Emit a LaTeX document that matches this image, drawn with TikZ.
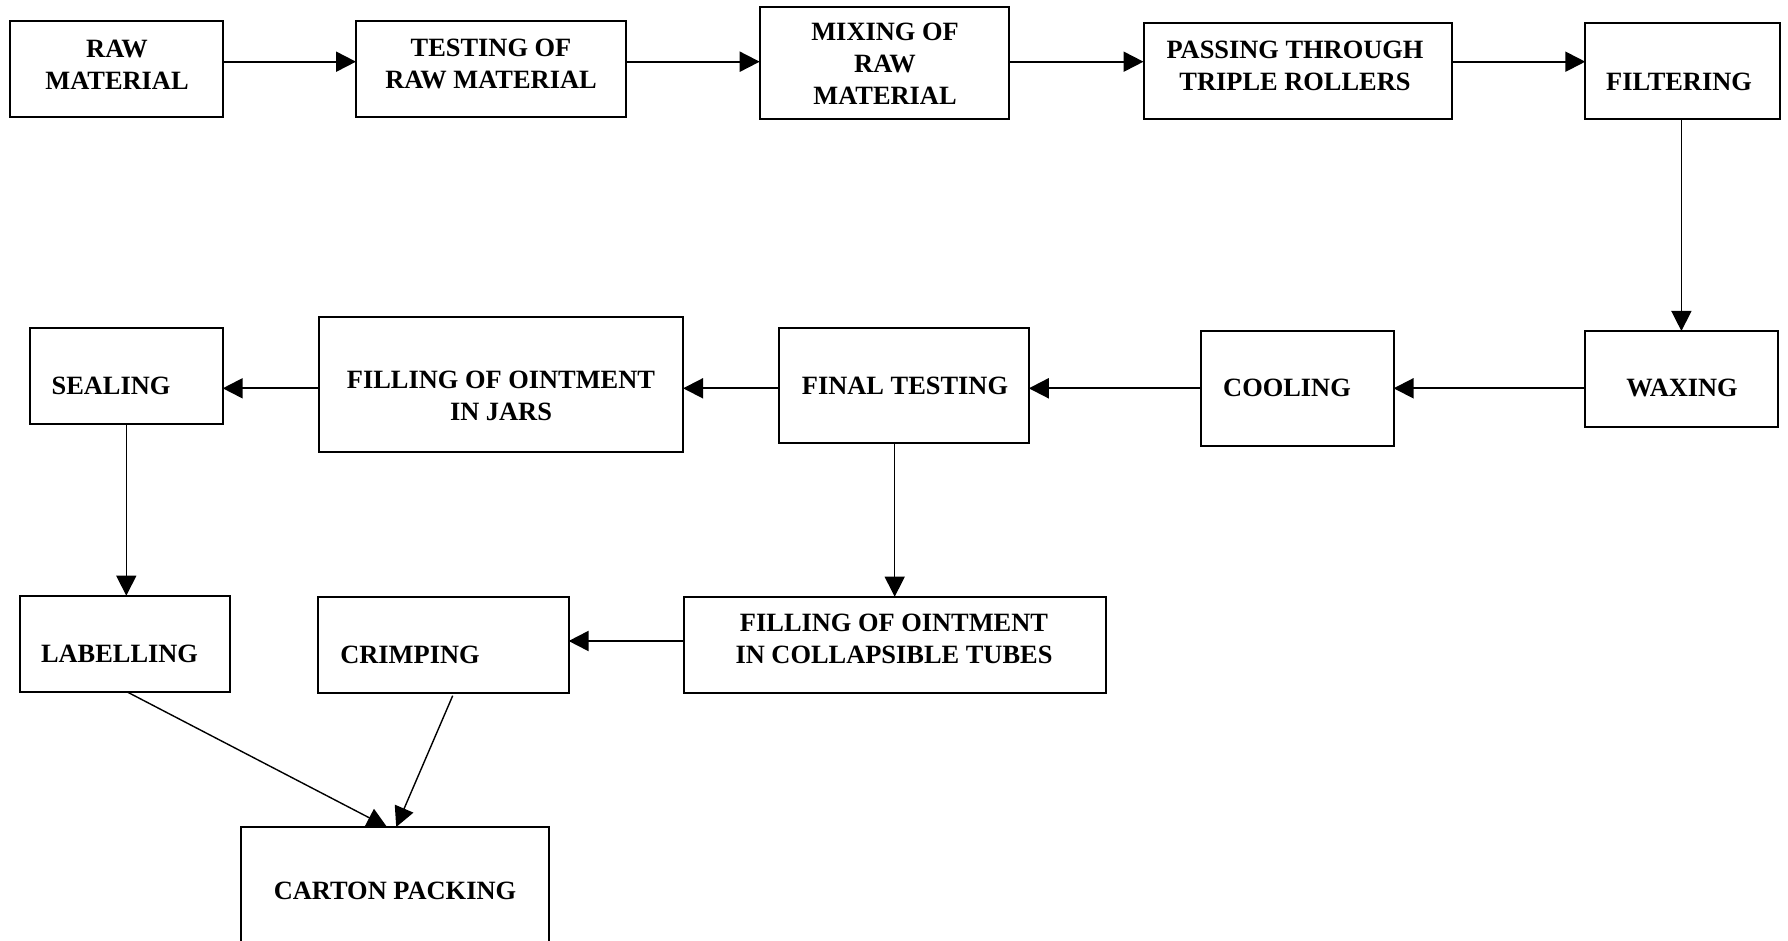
\documentclass[tikz,border=0pt]{standalone}
\usepackage{fontspec}
\setmainfont{Liberation Serif}
\usetikzlibrary{arrows.meta}

% box from corner (x1,y1) to (x2,y2), in pixel-like units
\newcommand\stagebox[5]{%
  \node[box, minimum width={(#4-#2)*0.5pt}, minimum height={(#5-#3)*0.5pt}]
    (#1) at ({(#2+#4)/2},{(#3+#5)/2}) {};}

\begin{document}
\begin{tikzpicture}[x=0.5pt,y=-0.5pt,
  box/.style={draw, line width=1pt, rectangle, inner sep=0pt, outer sep=0pt},
  lbl/.style={font=\bfseries\fontsize{13.2}{16}\selectfont, align=center, inner sep=0pt},
  flow/.style={line width=1pt, -{Triangle[length=10pt,width=10pt]}},
  thinflow/.style={line width=0.7pt, -{Triangle[length=10pt,width=10pt]}}]

\useasboundingbox (0,0) rectangle (1788,941);
\clip (0,0) rectangle (1788,941);

% row 1
\stagebox{raw}{10.3}{20.7}{222.7}{116.7}
\stagebox{test}{356}{20.7}{625.7}{116.7}
\stagebox{mix}{759.7}{6.7}{1009}{119.3}
\stagebox{pass}{1143.5}{23.3}{1451.5}{119}
\stagebox{filt}{1585.3}{23.3}{1780.4}{119}
\node[lbl] (t-raw)  at (117,64.4)  {RAW\\MATERIAL};
\node[lbl] (t-test) at (491,64.4)  {TESTING OF\\RAW MATERIAL};
\node[lbl] (t-mix)  at (885,63.3)  {MIXING OF\\RAW\\MATERIAL};
\node[lbl] (t-pass) at (1295,66)   {PASSING THROUGH\\TRIPLE ROLLERS};
\node[lbl] (t-filt) at (1679,82)   {FILTERING};

% row 2
\stagebox{seal}{29.9}{328.3}{222.7}{424}
\stagebox{jars}{318.6}{317.3}{683.1}{452}
\stagebox{final}{779}{328.3}{1028.8}{443.3}
\stagebox{cool}{1201.4}{331}{1393.6}{446}
\stagebox{wax}{1585.3}{331}{1777.5}{426.7}
\node[lbl] (t-seal)  at (111,385.8)   {SEALING};
\node[lbl] (t-jars)  at (501,396)     {FILLING OF OINTMENT\\IN JARS};
\node[lbl] (t-final) at (905,385.8)   {FINAL TESTING};
\node[lbl] (t-cool)  at (1287,388)    {COOLING};
\node[lbl] (t-wax)   at (1682,388)    {WAXING};

% row 3
\stagebox{label}{19.8}{595.7}{230.4}{691.7}
\stagebox{crimp}{318.4}{596.7}{568.6}{693.3}
\stagebox{tubes}{683.8}{596.7}{1105.6}{693.3}
\stagebox{carton}{241}{827}{549}{1000}
\node[lbl] (t-label)  at (119.5,653.8) {LABELLING};
\node[lbl] (t-crimp)  at (410,654.8)   {CRIMPING};
\node[lbl] (t-tubes)  at (894,639.3)   {FILLING OF OINTMENT\\IN COLLAPSIBLE TUBES};
\node[lbl] (t-carton) at (395,890.5)   {CARTON PACKING};

% arrow heights of the rows
\coordinate (yA) at (0,61.7);
\coordinate (yB) at (0,388.3);
\coordinate (yC) at (0,641);

% connectors
\draw[flow] (raw.east |- yA)  -- (test.west |- yA);
\draw[flow] (test.east |- yA) -- (mix.west |- yA);
\draw[flow] (mix.east |- yA)  -- (pass.west |- yA);
\draw[flow] (pass.east |- yA) -- (filt.west |- yA);
\draw[thinflow] (filt.south -| wax.north) -- (wax.north);
\draw[flow] (wax.west |- yB)   -- (cool.east |- yB);
\draw[flow] (cool.west |- yB)  -- (final.east |- yB);
\draw[flow] (final.west |- yB) -- (jars.east |- yB);
\draw[flow] (jars.west |- yB)  -- (seal.east |- yB);
\draw[thinflow] (seal.south) -- (seal.south |- label.north);
\draw[thinflow] (final.south -| tubes.north) -- (tubes.north);
\draw[flow] (tubes.west |- yC) -- (crimp.east |- yC);
\draw[thinflow] ([xshift=0.8pt]label.south) -- ([xshift=-4pt]carton.north);
\draw[thinflow] ([xshift=4.6pt,yshift=-1.2pt]crimp.south) -- ([xshift=0.6pt]carton.north);
\end{tikzpicture}
\end{document}
